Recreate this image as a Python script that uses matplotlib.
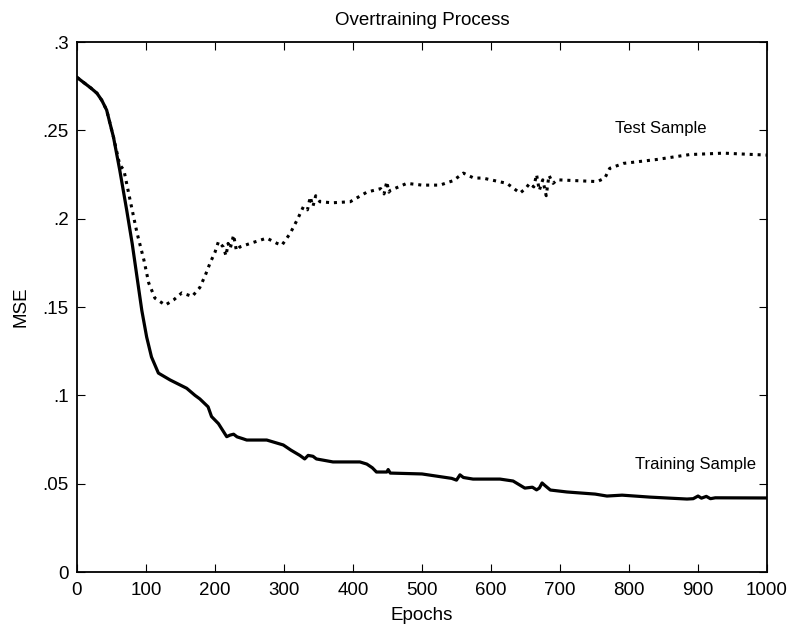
import matplotlib.pyplot as plt
from matplotlib.ticker import FuncFormatter

plt.rcParams['font.family'] = ['Liberation Sans', 'DejaVu Sans']

# training sample (solid line)
train_epochs = [0, 10, 20, 29, 36, 43, 53, 62, 72, 80, 87, 94, 101, 108, 118, 135, 159,
                171, 178, 190, 195, 205, 217, 222, 227, 232, 240, 246, 275, 299,
                310, 323, 330, 335, 342, 347, 371, 410, 420, 428, 434, 449, 451, 454, 500,
                543, 550, 555, 560, 574, 613, 632, 649, 660, 666, 670, 674, 678, 686, 710,
                751, 768, 790, 830, 884, 893, 900, 905, 912, 918, 925, 1000]
train_mse = [0.280, 0.277, 0.274, 0.271, 0.267, 0.2615, 0.246, 0.2275, 0.205, 0.186, 0.167,
             0.148, 0.133, 0.1217, 0.1126, 0.1087, 0.104, 0.100, 0.098, 0.0935, 0.088, 0.084,
             0.0766, 0.0775, 0.078, 0.0765, 0.0755, 0.0747, 0.0747,
             0.0719, 0.069, 0.066, 0.064, 0.066, 0.0655, 0.064, 0.0623, 0.0623, 0.0611, 0.059,
             0.0566, 0.0566, 0.058, 0.056, 0.0555, 0.053, 0.052, 0.055, 0.0535, 0.0526, 0.0526,
             0.0515, 0.0475, 0.048, 0.0465, 0.0475, 0.0504, 0.049, 0.0464, 0.0453, 0.0441,
             0.043, 0.0435, 0.0424, 0.0413, 0.0415, 0.043, 0.0418, 0.0428, 0.0415, 0.042, 0.0419]

# test sample (dotted line)
test_epochs = [0, 10, 20, 29, 36, 43, 53, 62, 68, 77, 87, 97, 104, 113, 128, 140, 152,
               167, 178, 186, 193, 200, 205, 212, 216, 219, 222, 227, 231, 236,
               255, 275, 290, 297, 309, 320, 328, 334, 338, 342, 346, 352, 370, 396, 420,
               440, 445, 449, 452, 454, 478, 500, 526, 545, 560, 575, 588, 623, 642, 650,
               656, 662, 666, 670, 675, 680, 684, 690, 696, 754, 765, 772, 792, 840, 888,
               937, 970, 1000]
test_mse = [0.280, 0.277, 0.274, 0.271, 0.267, 0.2615, 0.246, 0.2305, 0.2275, 0.2105, 0.192,
            0.1766, 0.1636, 0.155, 0.1511, 0.154, 0.158, 0.156, 0.161,
            0.168, 0.175, 0.181, 0.187, 0.184, 0.179, 0.186, 0.183, 0.1907, 0.182, 0.184,
            0.1865, 0.189, 0.186, 0.185, 0.1917, 0.200, 0.2067, 0.205, 0.2123, 0.207, 0.213,
            0.2096, 0.209, 0.2096, 0.215, 0.217, 0.214, 0.221, 0.215, 0.216, 0.220, 0.219,
            0.219, 0.2215, 0.2258, 0.223, 0.223, 0.220, 0.2145, 0.217, 0.220, 0.218, 0.225,
            0.216, 0.222, 0.213, 0.2245, 0.220, 0.222, 0.221, 0.223, 0.2285, 0.2313, 0.2335,
            0.2363, 0.2371, 0.2365, 0.236]

fig = plt.figure(figsize=(7.91, 6.31), dpi=100)
ax = fig.add_axes([0.0973, 0.0935, 0.8724, 0.8399])

ax.plot(train_epochs, train_mse, color='black', linewidth=2.3)
ax.plot(test_epochs, test_mse, color='black', linewidth=2.2, linestyle=(0, (1, 1.6)))

ax.text(780, 0.2513, 'Test Sample', fontsize=12, va='center', ha='left')
ax.text(809, 0.0606, 'Training Sample', fontsize=12, va='center', ha='left')

ax.set_xlim(0, 1000)
ax.set_ylim(0, 0.3)
ax.set_xticks(range(0, 1001, 100))
ax.set_yticks([0, 0.05, 0.1, 0.15, 0.2, 0.25, 0.3])


def fmt(v, pos):
    if abs(v) < 1e-9:
        return '0'
    return ('%g' % v).lstrip('0')


ax.yaxis.set_major_formatter(FuncFormatter(fmt))
ax.tick_params(direction='in', top=True, right=True, length=6, labelsize=13.5)
ax.tick_params(axis='x', pad=7)
ax.tick_params(axis='y', pad=6)
for s in ax.spines.values():
    s.set_linewidth(1.3)

ax.set_title('Overtraining Process', fontsize=13.5, pad=12)
ax.set_xlabel('Epochs', fontsize=13.5, labelpad=6)
ax.set_ylabel('MSE', fontsize=13.5, labelpad=9)

fig.savefig('out.png', dpi=100)
